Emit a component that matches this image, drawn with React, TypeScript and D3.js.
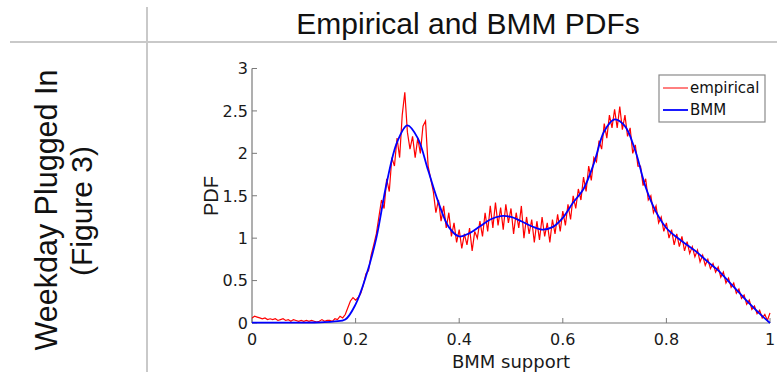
import React from "react";
import * as d3 from "d3";

// ---- data ----
const title = "Empirical and BMM PDFs";
const rowLabel1 = "Weekday Plugged In";
const rowLabel2 = "(Figure 3)";
const xTicks = [0, 0.2, 0.4, 0.6, 0.8, 1];
const xTickLabels = ["0", "0.2", "0.4", "0.6", "0.8", "1"];
const yTicks = [0, 0.5, 1, 1.5, 2, 2.5, 3];
const yTickLabels = ["0", "0.5", "1", "1.5", "2", "2.5", "3"];
const seriesNames = ["empirical", "BMM"];

// empirical PDF, support step 0.005 (0 .. 1)
const empiricalStep = 0.005;
const empiricalPdf = [
  0.06, 0.08, 0.07, 0.06, 0.05, 0.06, 0.04, 0.05, 0.04, 0.05,
  0.03, 0.04, 0.05, 0.03, 0.04, 0.02, 0.04, 0.03, 0.02, 0.03,
  0.02, 0.03, 0.02, 0.03, 0.02, 0.01, 0.02, 0.04, 0.02, 0.03,
  0.03, 0.02, 0.05, 0.04, 0.08, 0.06, 0.10, 0.18, 0.26, 0.30,
  0.27, 0.30, 0.35, 0.45, 0.58, 0.62, 0.80, 0.92, 1.05, 1.25,
  1.45, 1.35, 1.70, 1.55, 1.95, 1.85, 2.18, 1.95, 2.45, 2.72,
  2.25, 2.05, 2.20, 1.95, 2.18, 2.00, 2.32, 2.38, 1.85, 1.70,
  1.55, 1.30, 1.45, 1.20, 1.38, 1.12, 1.30, 1.02, 1.18, 0.95,
  1.10, 0.88, 1.05, 0.92, 1.12, 0.85, 1.08, 1.00, 1.20, 1.02,
  1.30, 1.08, 1.38, 1.12, 1.42, 1.15, 1.36, 1.10, 1.40, 1.18,
  1.35, 1.05, 1.30, 1.12, 1.38, 1.00, 1.25, 1.05, 1.22, 0.95,
  1.20, 0.98, 1.25, 1.02, 1.18, 0.95, 1.22, 1.05, 1.28, 1.08,
  1.32, 1.15, 1.40, 1.22, 1.50, 1.35, 1.58, 1.45, 1.72, 1.55,
  1.85, 1.68, 1.95, 1.90, 2.15, 2.05, 2.35, 2.18, 2.45, 2.30,
  2.52, 2.30, 2.55, 2.28, 2.45, 2.20, 2.30, 2.00, 2.10, 1.85,
  1.85, 1.62, 1.70, 1.45, 1.50, 1.30, 1.38, 1.18, 1.25, 1.08,
  1.18, 1.00, 1.10, 0.92, 1.05, 0.90, 1.02, 0.85, 0.96, 0.82,
  0.90, 0.78, 0.86, 0.72, 0.80, 0.68, 0.75, 0.64, 0.70, 0.60,
  0.66, 0.54, 0.60, 0.47, 0.53, 0.42, 0.47, 0.35, 0.40, 0.29,
  0.33, 0.22, 0.27, 0.16, 0.20, 0.11, 0.15, 0.06, 0.10, 0.03,
  0.12,
];

// BMM fit, support step 0.02 (0 .. 1)
const bmmStep = 0.02;
const bmmPdf = [
  0.005, 0.005, 0.005, 0.005, 0.005, 0.005, 0.006, 0.01, 0.02, 0.04,
  0.22, 0.55, 1.0, 1.65, 2.13, 2.33, 2.18, 1.8, 1.42, 1.13,
  1.02, 1.06, 1.14, 1.22, 1.26, 1.25, 1.2, 1.14, 1.1, 1.13,
  1.24, 1.42, 1.58, 1.88, 2.26, 2.4, 2.32, 2.03, 1.6, 1.31,
  1.12, 1.01, 0.92, 0.83, 0.72, 0.62, 0.49, 0.36, 0.23, 0.11,
  0.0,
];

const W = 777;
const H = 372;

export default function App() {
  const x = d3.scaleLinear().domain([0, 1]).range([252, 770]);
  const y = d3.scaleLinear().domain([0, 3]).range([323, 68.5]);

  const emp = empiricalPdf.map((v, i) => [i * empiricalStep, v] as [number, number]);
  const bmm = bmmPdf.map((v, i) => [i * bmmStep, v] as [number, number]);

  const empLine = d3
    .line<[number, number]>()
    .x((d) => x(d[0]))
    .y((d) => y(d[1]));
  const bmmLine = d3
    .line<[number, number]>()
    .x((d) => x(d[0]))
    .y((d) => y(d[1]))
    .curve(d3.curveCatmullRom.alpha(0.5));

  const axisColor = "#7a7a7a";
  const plotFont = "'DejaVu Sans', sans-serif";
  const headFont = "'Liberation Sans', Arial, sans-serif";

  const [x0, x1] = x.range();
  const [y0, y1] = y.range();

  return (
    <svg
      width={W}
      height={H}
      viewBox={`0 0 ${W} ${H}`}
      style={{ position: "absolute", left: 0, top: 0, background: "#fff" }}
    >
      <rect x={0} y={0} width={W} height={H} fill="#fff" />
      {/* table grid */}
      <line x1={10} x2={W} y1={42} y2={42} stroke="#c9c9c9" strokeWidth={2} />
      <line x1={147} x2={147} y1={7} y2={H} stroke="#c9c9c9" strokeWidth={2} />

      {/* header */}
      <text
        x={468}
        y={34}
        textAnchor="middle"
        fontFamily={headFont}
        fontSize={30}
        fill="#111"
      >
        {title}
      </text>

      {/* row label */}
      <g transform="translate(57,210) rotate(-90)">
        <text textAnchor="middle" fontFamily={headFont} fontSize={30.5} fill="#111">
          {rowLabel1}
        </text>
      </g>
      <g transform="translate(92,211) rotate(-90)">
        <text textAnchor="middle" fontFamily={headFont} fontSize={30} fill="#111">
          {rowLabel2}
        </text>
      </g>

      {/* axes */}
      <line x1={x0} x2={x1} y1={y0} y2={y0} stroke={axisColor} strokeWidth={1.2} />
      <line x1={x0} x2={x0} y1={y0} y2={y1} stroke={axisColor} strokeWidth={1.2} />
      {xTicks.map((t, i) => (
        <g key={"xt" + i}>
          <line x1={x(t)} x2={x(t)} y1={y0} y2={y0 - 5} stroke={axisColor} />
          <text
            x={x(t)}
            y={345}
            textAnchor="middle"
            fontFamily={plotFont}
            fontSize={16}
            fill="#1a1a1a"
          >
            {xTickLabels[i]}
          </text>
        </g>
      ))}
      {yTicks.map((t, i) => (
        <g key={"yt" + i}>
          <line x1={x0} x2={x0 + 5} y1={y(t)} y2={y(t)} stroke={axisColor} />
          <text
            x={248}
            y={y(t)}
            dy="0.36em"
            textAnchor="end"
            fontFamily={plotFont}
            fontSize={16}
            fill="#1a1a1a"
          >
            {yTickLabels[i]}
          </text>
        </g>
      ))}
      <text
        x={(x0 + x1) / 2}
        y={368}
        textAnchor="middle"
        fontFamily={plotFont}
        fontSize={18}
        fill="#1a1a1a"
      >
        BMM support
      </text>
      <g transform="translate(218,196) rotate(-90)">
        <text textAnchor="middle" fontFamily={headFont} fontSize={20} fill="#1a1a1a">
          PDF
        </text>
      </g>

      {/* series */}
      <path d={empLine(emp) || ""} fill="none" stroke="#ff0000" strokeWidth={1.2} />
      <path d={bmmLine(bmm) || ""} fill="none" stroke="#0000ff" strokeWidth={1.8} />

      {/* legend */}
      <rect x={659} y={75} width={106} height={47} fill="#fff" stroke="#8a8a8a" strokeWidth={1.2} />
      <line x1={663} x2={688} y1={88} y2={88} stroke="#ff0000" strokeWidth={1} />
      <line x1={663} x2={688} y1={110} y2={110} stroke="#0000ff" strokeWidth={1.8} />
      <text x={690} y={93} fontFamily={plotFont} fontSize={15} fill="#111">
        {seriesNames[0]}
      </text>
      <text x={690} y={115} fontFamily={plotFont} fontSize={15} fill="#111">
        {seriesNames[1]}
      </text>
    </svg>
  );
}
